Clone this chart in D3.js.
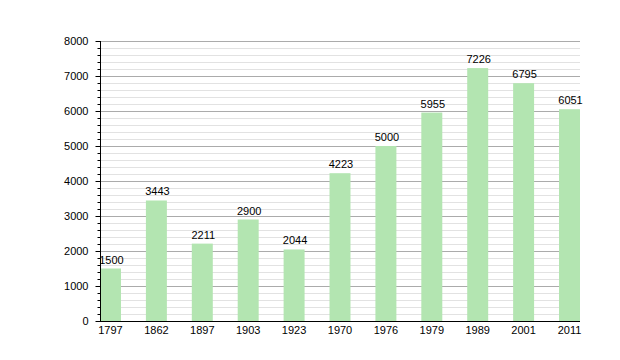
<!DOCTYPE html>
<html><head><meta charset="utf-8">
<script src="https://cdn.jsdelivr.net/npm/d3@7"></script>
<style>body{margin:0;background:#fff}svg{display:block}text{font-family:"Liberation Sans",Arial,sans-serif;font-size:11px;fill:#000}</style>
</head><body><svg id="c" width="620" height="360"></svg>
<script>
const years = ["1797","1862","1897","1903","1923","1970","1976","1979","1989","2001","2011"];
const population = [1500,3443,2211,2900,2044,4223,5000,5955,7226,6795,6051];
const yTicks = [0,1000,2000,3000,4000,5000,6000,7000,8000];
const minorStep = 200;

const svg = d3.select("#c");
const L=100, R=580, T=41, B=321;
const x = d3.scaleBand().domain(years).range([L,R]).paddingInner(0.543).paddingOuter(0);
const y = d3.scaleLinear().domain([0,8000]).range([B,T]);
const minor = d3.range(0,8001,minorStep).filter(v=>v%1000!==0);

// grid
svg.append("g").selectAll("line").data(minor).join("line")
  .attr("x1",L).attr("x2",R).attr("y1",d=>y(d)+0.5).attr("y2",d=>y(d)+0.5)
  .attr("stroke","#e2e2e2").attr("stroke-width",1);
svg.append("g").selectAll("line").data(yTicks.slice(1)).join("line")
  .attr("x1",L).attr("x2",R).attr("y1",d=>y(d)+0.5).attr("y2",d=>y(d)+0.5)
  .attr("stroke","#ababab").attr("stroke-width",1);

// bars
svg.append("g").selectAll("rect").data(population).join("rect")
  .attr("x",(d,i)=>x(years[i])).attr("width",x.bandwidth())
  .attr("y",d=>y(d)).attr("height",d=>B-y(d))
  .attr("fill","#b3e5b1");

// value labels
svg.append("g").selectAll("text").data(population).join("text")
  .attr("x",(d,i)=>x(years[i])+x.bandwidth()/2+1).attr("y",d=>y(d)-5)
  .attr("text-anchor","middle").text(d=>d);

// y axis
const ya = svg.append("g").attr("transform",`translate(${L+0.5},0)`);
ya.call(d3.axisLeft(y).tickValues(yTicks).tickSize(5).tickPadding(7).tickFormat(d3.format("d")));
ya.append("g").selectAll("line").data(minor).join("line")
  .attr("x1",-3).attr("x2",0).attr("y1",d=>y(d)+0.5).attr("y2",d=>y(d)+0.5).attr("stroke","#000");
ya.select(".domain").attr("d",`M0,${T}V${B}`).attr("stroke","#000");
ya.selectAll("text").style("font-size","11px").style("font-family","Liberation Sans, Arial, sans-serif").attr("fill","#000");

// x axis
const xa = svg.append("g").attr("transform",`translate(0,${B+0.5})`);
xa.call(d3.axisBottom(x).tickSize(0).tickPadding(5));
xa.select(".domain").attr("d",`M${L},0H${R}`).attr("stroke","#000");
xa.selectAll("text").style("font-size","11px").style("font-family","Liberation Sans, Arial, sans-serif").attr("fill","#000");
</script></body></html>
